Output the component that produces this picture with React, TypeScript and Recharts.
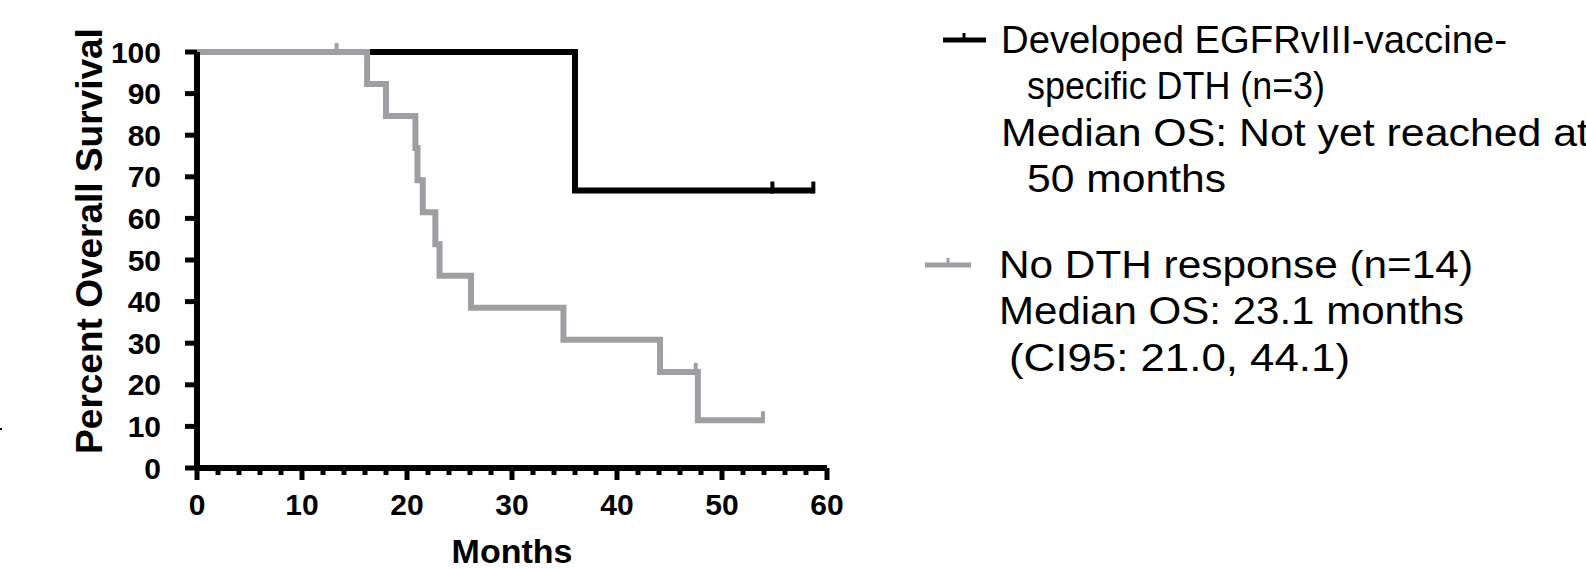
import { LineChart, Line, XAxis, YAxis, Label } from 'recharts';

// Developed EGFRvIII-vaccine-specific DTH (n=3)
const dthMonths = [0, 36.0, 54.8, 58.7];
const dthSurvival = [100, 66.7, 66.7, 66.7];
const dthCensored = [false, false, true, true];

// No DTH response (n=14)
const noDthMonths = [0, 13.3, 16.2, 18.0, 20.8, 21.0, 21.5, 22.7, 23.1, 26.1, 34.9, 44.1, 47.5, 47.7, 53.9];
const noDthSurvival = [100, 100, 92.3, 84.6, 76.9, 69.2, 61.5, 53.8, 46.2, 38.5, 30.8, 23.1, 23.1, 11.5, 11.5];
const noDthCensored = [false, true, false, false, false, false, false, false, false, false, false, false, true, false, true];

const monthTicks = [0, 2, 4, 6, 8, 10, 12, 14, 16, 18, 20, 22, 24, 26, 28, 30, 32, 34, 36, 38, 40, 42, 44, 46, 48, 50, 52, 54, 56, 58, 60];
const percentTicks = [0, 10, 20, 30, 40, 50, 60, 70, 80, 90, 100];

const dthLegend = ['Developed EGFRvIII-vaccine-', 'specific DTH (n=3)', 'Median OS: Not yet reached at', '50 months'];
const noDthLegend = ['No DTH response (n=14)', 'Median OS: 23.1 months', '(CI95: 21.0, 44.1)'];

const toRows = (months: number[], surv: number[], cens: boolean[]) =>
  months.map((t, i) => ({ t, s: surv[i], c: cens[i] }));

const dthData = toRows(dthMonths, dthSurvival, dthCensored);
const noDthData = toRows(noDthMonths, noDthSurvival, noDthCensored);

const BLACK = '#000';
const GREY = '#9e9fa3';
const FONT = '"Liberation Sans", Arial, Helvetica, sans-serif';

const censorDot = (color: string) => (props: any) => {
  const { cx, cy, payload, index } = props;
  if (!payload?.c) return <g key={`n${index}`} />;
  return <line key={`c${index}`} x1={cx} x2={cx} y1={cy - 9} y2={cy + 3} stroke={color} strokeWidth={4} />;
};

const MonthTick = (props: any) => {
  const { x, y, payload } = props;
  const major = payload.value % 10 === 0;
  return (
    <g>
      <line x1={x} x2={x} y1={y} y2={y + (major ? 12 : 7)} stroke={BLACK} strokeWidth={5} />
      {major && (
        <text x={x} y={y + 47} textAnchor="middle" fontFamily={FONT} fontWeight="bold" fontSize={30} fill={BLACK}>
          {payload.value}
        </text>
      )}
    </g>
  );
};

// legend text rows: [text, x, baseline, width]
const legendRows: [string, number, number, number][] = [
  [dthLegend[0], 1001, 52.5, 506],
  [dthLegend[1], 1027, 99, 298],
  [dthLegend[2], 1001, 145.5, 588],
  [dthLegend[3], 1027, 192, 199],
  [noDthLegend[0], 999, 277.5, 474],
  [noDthLegend[1], 999, 324, 465],
  [noDthLegend[2], 1009, 371, 341],
];

const App = () => (
  <div style={{ position: 'relative', width: 1586, height: 569, background: '#fff', overflow: 'hidden' }}>
    <style>{'body{margin:0}'}</style>
    <LineChart width={1586} height={569} margin={{ top: 52, right: 759, bottom: 41, left: 100 }}>
      <XAxis
        dataKey="t"
        type="number"
        domain={[0, 60]}
        ticks={monthTicks}
        interval={0}
        height={60}
        tickSize={0}
        tickMargin={0}
        tick={<MonthTick />}
        axisLine={{ stroke: BLACK, strokeWidth: 6 }}
        allowDuplicatedCategory={false}
      >
        <Label
          content={(p: any) => (
            <text x={p.viewBox.x + p.viewBox.width / 2} y={p.viewBox.y + 95} textAnchor="middle" fontFamily={FONT} fontWeight="bold" fontSize={34} fill={BLACK}>
              Months
            </text>
          )}
        />
      </XAxis>
      <YAxis
        type="number"
        domain={[0, 100]}
        ticks={percentTicks}
        interval={0}
        width={97}
        tickSize={12}
        tickMargin={24}
        tickLine={{ stroke: BLACK, strokeWidth: 5 }}
        axisLine={{ stroke: BLACK, strokeWidth: 6 }}
        tick={{ fill: BLACK, fontFamily: FONT, fontWeight: 'bold', fontSize: 30 }}
      >
        <Label
          content={() => (
            <text x={89} y={241} transform="rotate(-90 89 241)" textAnchor="middle" dominantBaseline="central" fontFamily={FONT} fontWeight="bold" fontSize={37} fill={BLACK}>
              Percent Overall Survival
            </text>
          )}
        />
      </YAxis>
      <Line
        data={dthData}
        dataKey="s"
        type="stepAfter"
        stroke={BLACK}
        strokeWidth={6}
        dot={censorDot(BLACK)}
        activeDot={false}
        isAnimationActive={false}
      />
      <Line
        data={noDthData}
        dataKey="s"
        type="stepAfter"
        stroke={GREY}
        strokeWidth={6}
        dot={censorDot(GREY)}
        activeDot={false}
        isAnimationActive={false}
      />
    </LineChart>

    <div style={{ position: 'absolute', left: 0, top: 428, width: 2, height: 2, background: BLACK }} />

    <svg width={1586} height={569} style={{ position: 'absolute', left: 0, top: 0, pointerEvents: 'none' }}>
      <line x1={943} x2={986} y1={40} y2={40} stroke={BLACK} strokeWidth={5} />
      <line x1={964} x2={964} y1={33} y2={40} stroke={BLACK} strokeWidth={3} />
      <line x1={925} x2={971} y1={265} y2={265} stroke={GREY} strokeWidth={5} />
      <line x1={948} x2={948} y1={258} y2={265} stroke={GREY} strokeWidth={3} />
      {legendRows.map(([text, x, y, w]) => (
        <text key={text} x={x} y={y} textLength={w} lengthAdjust="spacingAndGlyphs" fontFamily={FONT} fontSize={38} fill={BLACK}>
          {text}
        </text>
      ))}
    </svg>
  </div>
);

export default App;
